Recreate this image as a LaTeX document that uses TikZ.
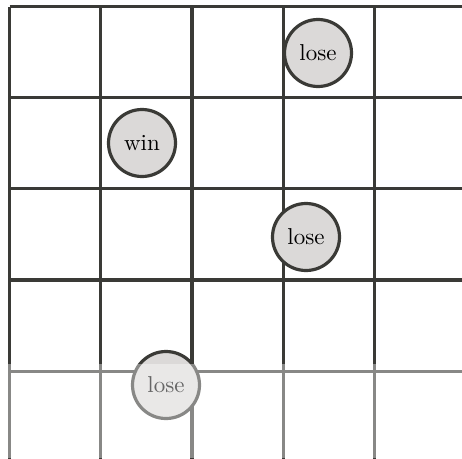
\documentclass[tikz,border=0pt]{standalone}
\usepackage{tikz}
\usepackage{fontspec}
\setmainfont{lmroman10-regular.otf}

\definecolor{gridcol}{RGB}{58,58,54}
\definecolor{diskcol}{RGB}{219,217,216}

\begin{document}
\begin{tikzpicture}[
    x=1pt, y=-1pt,
    gridline/.style={draw=gridcol, line width=3.2pt},
    disk/.style={circle, draw=gridcol, line width=3.2pt, fill=diskcol,
                 minimum size=67pt, inner sep=0pt, text=black,
                 font=\fontsize{23}{28}\selectfont},
  ]
  \useasboundingbox (0,0) rectangle (462,458);
  \fill[white] (0,0) rectangle (462,458);

  % grid, open to the right and at the bottom
  \foreach \i in {0,...,4} {
    \draw[gridline] (9.5+91.25*\i, 6.5) -- (9.5+91.25*\i, 460);
    \draw[gridline] (9.5, 6.5+91.15*\i) -- (464, 6.5+91.15*\i);
  }

  \node[disk] (win)   at (142, 143) {win};
  \node[disk] (loseA) at (318, 53)  {lose};
  \node[disk] (loseB) at (306, 237) {lose};
  \node[disk] (loseC) at (166, 385) {lose};

  % faded lower band
  \fill[white, opacity=0.4] (0,364) rectangle (462,458);
\end{tikzpicture}
\end{document}
